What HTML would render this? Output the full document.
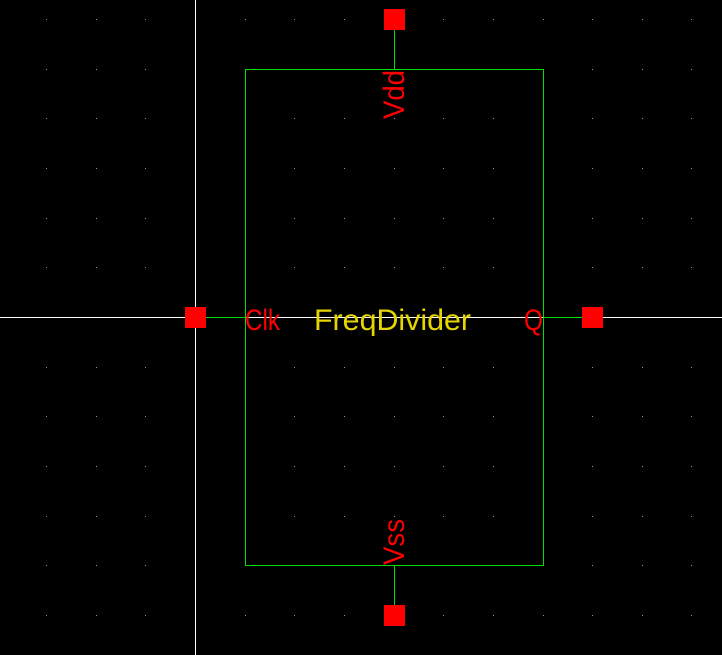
<!DOCTYPE html>
<html><head><meta charset="utf-8"><style>
html,body{margin:0;padding:0;background:#000;}
svg{display:block;}
text{font-family:"Liberation Sans",sans-serif;}
</style></head><body>
<svg width="722" height="655" viewBox="0 0 722 655" xmlns="http://www.w3.org/2000/svg">
<rect width="722" height="655" fill="#000"/>
<g id="grid"></g>
<line x1="195.5" y1="0" x2="195.5" y2="655" stroke="#fff" stroke-width="1"/>
<line x1="0" y1="317.5" x2="722" y2="317.5" stroke="#fff" stroke-width="1"/>
<rect x="245.5" y="69.5" width="298" height="496" fill="none" stroke="#00e000" stroke-width="1"/>
<line x1="394.5" y1="19" x2="394.5" y2="69" stroke="#00e000"/>
<line x1="394.5" y1="565" x2="394.5" y2="615" stroke="#00e000"/>
<line x1="195" y1="317.5" x2="245" y2="317.5" stroke="#00e000"/>
<line x1="543" y1="317.5" x2="592" y2="317.5" stroke="#00e000"/>
<rect x="384" y="9" width="21" height="21" fill="#ff0000"/>
<rect x="384" y="605" width="21" height="21" fill="#ff0000"/>
<rect x="185" y="307" width="21" height="21" fill="#ff0000"/>
<rect x="582" y="307" width="21" height="21" fill="#ff0000"/>
<text transform="translate(404,119) rotate(-90)" font-size="30" fill="#ff0000" textLength="49" lengthAdjust="spacingAndGlyphs">Vdd</text>
<text transform="translate(404,565) rotate(-90)" font-size="30" fill="#ff0000" textLength="46" lengthAdjust="spacingAndGlyphs">Vss</text>
<text x="245" y="330" font-size="30" fill="#ff0000" textLength="35" lengthAdjust="spacingAndGlyphs">Clk</text>
<text x="524" y="330" font-size="30" fill="#ff0000" textLength="19" lengthAdjust="spacingAndGlyphs">Q</text>
<text x="314" y="330" font-size="30" fill="#e6d600" textLength="157" lengthAdjust="spacingAndGlyphs">FreqDivider</text>
</svg>
<script>
const g=document.getElementById('grid');
for(let i=0;i<15;i++){for(let j=0;j<14;j++){
const x=Math.round(46+49.65*i), y=Math.round(19+49.65*j);
const r=document.createElementNS('http://www.w3.org/2000/svg','rect');


r.setAttribute('x',x);r.setAttribute('y',y);r.setAttribute('width',1);r.setAttribute('height',1);
r.setAttribute('fill','#9090a8');g.appendChild(r);}}
</script>
</body></html>
